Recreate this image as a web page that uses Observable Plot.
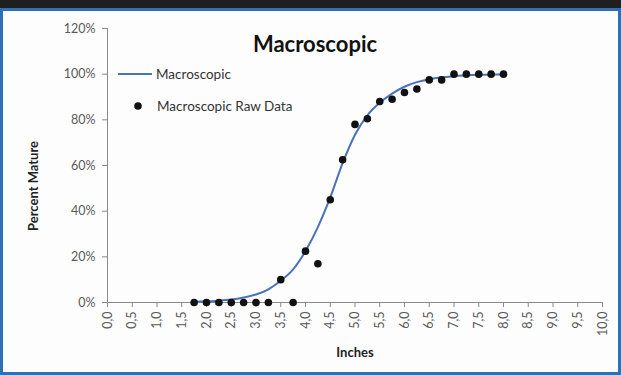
<!DOCTYPE html>
<html><head><meta charset="utf-8">
<script src="https://cdn.jsdelivr.net/npm/d3@7"></script>
<script src="https://cdn.jsdelivr.net/npm/@observablehq/plot@0.6"></script>
<style>
html,body{margin:0;padding:0;background:#fff;}
#wrap{position:relative;width:621px;height:375px;overflow:hidden;background:#fdfdfd;}
#topbar{position:absolute;left:0;top:0;width:621px;height:8px;background:#1f1f1f;}
#frame{position:absolute;left:0;top:8px;width:615px;height:361px;border:3px solid #2f6fb5;box-sizing:content-box;}
#chart{position:absolute;left:0;top:0;}
</style></head>
<body><div id="wrap"><div id="topbar"></div><div id="frame"></div><div id="chart"></div></div>
<script>
const rawInches = [1.75,2.0,2.25,2.5,2.75,3.0,3.25,3.5,3.75,4.0,4.25,4.5,4.75,5.0,5.25,5.5,5.75,6.0,6.25,6.5,6.75,7.0,7.25,7.5,7.75,8.0];
const rawPct = [0,0,0,0,0,0,0,10,0,22.5,17,45,62.5,78,80.5,88,89,92,93.5,97.5,97.5,100,100,100,100,100];
const fitInches = [1.75,2.0,2.25,2.5,2.75,3.0,3.25,3.5,3.75,4.0,4.25,4.5,4.75,5.0,5.25,5.5,5.75,6.0,6.25,6.5,6.75,7.0,7.25,7.5,7.75,8.0];
const fitPct = [0.3,0.5,0.8,1.3,2.2,3.5,5.8,9.5,14.5,22.5,33,46,61,73.5,82,87.5,91.5,94.5,96.5,97.8,98.6,99.1,99.5,99.7,99.8,99.9];
const xTicks = d3.range(0, 10.01, 0.5);
const yTicks = [0,20,40,60,80,100,120];
const titleText = "Macroscopic";
const xLabel = "Inches";
const yLabel = "Percent Mature";
const legendLine = "Macroscopic";
const legendDots = "Macroscopic Raw Data";

const raw = rawInches.map((x,i)=>({x, y: rawPct[i]}));
const fit = fitInches.map((x,i)=>({x, y: fitPct[i]}));
const axisColor = "#8a8a8a";
const font = "Lato, 'Open Sans', sans-serif";

const plot = Plot.plot({
  width: 621, height: 375,
  marginLeft: 107, marginRight: 19, marginTop: 28, marginBottom: 73,
  style: {fontFamily: font, fontSize: "12px", color: "#595959", background: "transparent"},
  x: {domain: [0, 10], ticks: xTicks, label: null},
  y: {domain: [0, 120], ticks: yTicks, label: null},
  marks: [
    Plot.ruleX([0], {stroke: axisColor}),
    Plot.ruleY([0], {stroke: axisColor}),
    Plot.axisX({ticks: xTicks, tickSize: 5, tickPadding: 4, tickRotate: -90, stroke: axisColor,
      tickFormat: d => d.toFixed(1).replace(".", ","), fill: "#595959", fontSize: 12.5}),
    Plot.axisY({ticks: yTicks, tickSize: 5, tickPadding: 7, stroke: axisColor,
      tickFormat: d => d + "%", fill: "#595959", fontSize: 12.5}),
    Plot.line(fit, {x: "x", y: "y", stroke: "#4a72b8", strokeWidth: 2, curve: "monotone-x"}),
    Plot.dot(raw, {x: "x", y: "y", r: 3.8, fill: "#111", stroke: "none"})
  ]
});
document.getElementById("chart").appendChild(plot);

const svg = d3.select(plot);
svg.append("text").attr("x", 315).attr("y", 52).attr("text-anchor", "middle")
  .attr("font-family", font).attr("font-weight", "bold").attr("font-size", 22).attr("fill", "#111").text(titleText);
svg.append("text").attr("x", 355).attr("y", 357).attr("text-anchor", "middle")
  .attr("font-family", font).attr("font-weight", "bold").attr("font-size", 13).attr("fill", "#222").text(xLabel);
svg.append("text").attr("transform", "translate(38,186) rotate(-90)").attr("text-anchor", "middle")
  .attr("font-family", font).attr("font-weight", "bold").attr("font-size", 13).attr("fill", "#222").text(yLabel);
// legend
svg.append("line").attr("x1", 118).attr("x2", 152).attr("y1", 74).attr("y2", 74)
  .attr("stroke", "#4a72b8").attr("stroke-width", 2);
svg.append("text").attr("x", 156).attr("y", 79).attr("text-anchor", "start").attr("font-family", font).attr("font-size", 13.5)
  .attr("fill", "#333").text(legendLine);
svg.append("circle").attr("cx", 138).attr("cy", 106).attr("r", 3.8).attr("fill", "#111");
svg.append("text").attr("x", 157).attr("y", 111).attr("text-anchor", "start").attr("font-family", font).attr("font-size", 13.5)
  .attr("fill", "#333").text(legendDots);
</script></body></html>
